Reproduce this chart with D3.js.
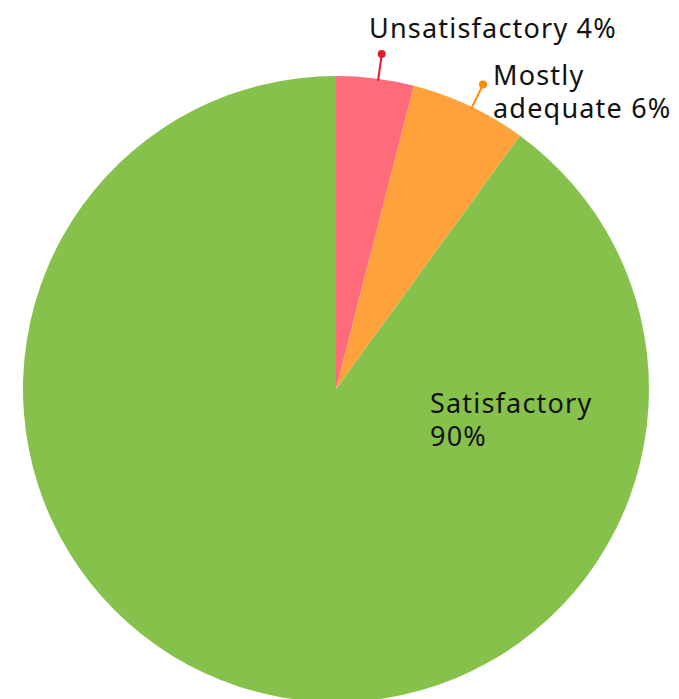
<!DOCTYPE html>
<html><head><meta charset="utf-8">
<script src="https://cdn.jsdelivr.net/npm/d3@7"></script>
<style>html,body{margin:0;padding:0;background:#fff;overflow:hidden}</style>
</head><body>
<svg id="c" width="679" height="699"></svg>
<script>
const categories = ["Unsatisfactory", "Mostly adequate", "Satisfactory"];
const values = [4, 6, 90];
const colors = ["#ff6b78", "#ffa23b", "#86c24b"];
const leaderColors = ["#e8192c", "#ff8a00", null];

const svg = d3.select("#c");
const cx = 336, cy = 389, R = 313;
const g = svg.append("g").attr("transform", `translate(${cx},${cy})`);
const pie = d3.pie().sort(null).value(d => d)(values);
const arc = d3.arc().innerRadius(0).outerRadius(R);
g.selectAll("path").data(pie).join("path")
  .attr("d", arc).attr("fill", (d, i) => colors[i]);

const font = "'Noto Sans', sans-serif";
// leaders for small slices
[0, 1].forEach(i => {
  const a = (pie[i].startAngle + pie[i].endAngle) / 2 + 0.01;
  const p0 = [Math.sin(a) * (R - 2), -Math.cos(a) * (R - 2)];
  const p1 = [Math.sin(a) * 338, -Math.cos(a) * 338];
  g.append("line").attr("x1", p0[0]).attr("y1", p0[1]).attr("x2", p1[0]).attr("y2", p1[1])
    .attr("stroke", leaderColors[i]).attr("stroke-width", 2);
  g.append("circle").attr("cx", p1[0]).attr("cy", p1[1]).attr("r", 4).attr("fill", leaderColors[i]);
});
const labels = [
  {lines: [categories[0] + " " + values[0] + "%"], x: 369, y: 38},
  {lines: ["Mostly", "adequate " + values[1] + "%"], x: 493, y: 85},
  {lines: [categories[2], values[2] + "%"], x: 430, y: 413}
];
labels.forEach(l => {
  const t = svg.append("text").attr("x", l.x).attr("y", l.y)
    .attr("font-family", font).attr("font-size", 27).attr("letter-spacing", 1.2).attr("fill", "#111");
  l.lines.forEach((s, k) => t.append("tspan").attr("x", l.x).attr("dy", k ? 33 : 0).text(s));
});
</script>
</body></html>
